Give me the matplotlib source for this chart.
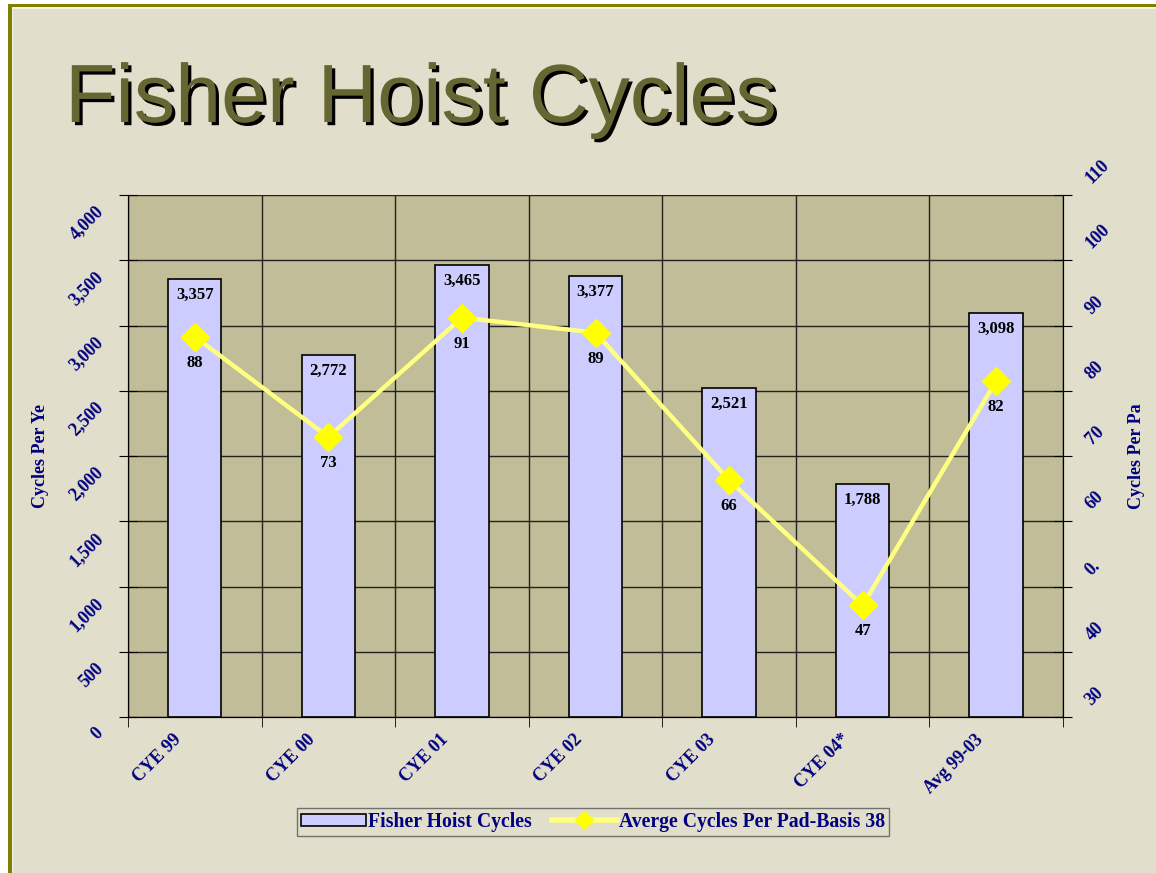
import matplotlib
matplotlib.use("Agg")
import matplotlib.pyplot as plt
import matplotlib.ticker as mticker
import matplotlib.patheffects as pe
import matplotlib.transforms as mtrans
from matplotlib.patches import Rectangle, Patch
from matplotlib.lines import Line2D

# ── Data ──────────────────────────────────────────────────────────────────────
categories   = ['CYE 99', 'CYE 00', 'CYE 01', 'CYE 02', 'CYE 03', 'CYE 04*', 'Avg 99-03']
hoist_cycles = [3357, 2772, 3465, 3377, 2521, 1788, 3098]
avg_per_pad  = [88.3, 72.9, 91.2, 88.9, 66.3, 47.1, 81.5]
left_ticks   = list(range(0, 4001, 500))
right_ticks  = list(range(30, 111, 10))
right_labels = ['30', '40', '0.', '60', '70', '80', '90', '100', '110']

# ── Palette ───────────────────────────────────────────────────────────────────
_BG     = '#E1DFCB'
_PLOT   = '#C1BD98'
_OLIVE  = '#808000'
_NAVY   = '#000080'
_BAR    = '#CCCCFF'
_LINE   = '#FFFF80'
_MARK   = '#FFFF00'
_TITLE  = '#666633'
SERIF   = ['Liberation Serif', 'DejaVu Serif']

W, H = 1156, 873
fig = plt.figure(figsize=(W / 100, H / 100), dpi=100)
fig.patch.set_facecolor('white')

# slide frame
fig.patches.append(Rectangle((8 / W, 0), 1, 1 - 4 / H, transform=fig.transFigure,
                             facecolor=_OLIVE, edgecolor='none', zorder=-3))
fig.patches.append(Rectangle((12 / W, 0), 1, 1 - 7 / H, transform=fig.transFigure,
                             facecolor='#F4F3EA', edgecolor='none', zorder=-2))
fig.patches.append(Rectangle((13 / W, 0), 1, 1 - 9 / H, transform=fig.transFigure,
                             facecolor=_BG, edgecolor='none', zorder=-1))

# title
fig.text(65 / W, 1 - 122 / H, 'Fisher Hoist Cycles', fontsize=59.5,
         family=['Liberation Sans', 'DejaVu Sans'], color=_TITLE,
         ha='left', va='baseline',
         path_effects=[pe.withSimplePatchShadow(offset=(2.3, -2.3),
                                                shadow_rgbFace='black', alpha=1)])

# ── Axes ──────────────────────────────────────────────────────────────────────
x0, x1, y0, y1 = 128, 1063, 195, 717
ax = fig.add_axes([x0 / W, 1 - y1 / H, (x1 - x0) / W, (y1 - y0) / H])
ax.set_facecolor(_PLOT)
ax2 = ax.twinx()

xs = list(range(len(categories)))
ax.bar(xs, hoist_cycles, width=0.4, color=_BAR, edgecolor='black',
       linewidth=1.2, zorder=3)
for x, v in zip(xs, hoist_cycles):
    ax.annotate(f'{v:,}', (x, v), xytext=(0, -8), textcoords='offset pixels',
                ha='center', va='top', fontsize=12, fontweight='bold',
                family=SERIF, color='black', zorder=4)

ax.set_xlim(-0.5, len(categories) - 0.5)
ax.set_ylim(0, 4000)
ax.set_yticks(left_ticks)
ax.yaxis.set_major_formatter(mticker.FuncFormatter(lambda v, _: f'{v:,.0f}'))
ax.set_xticks(xs)
ax.set_xticks([i - 0.5 for i in range(len(categories) + 1)], minor=True)
ax.set_xticklabels(categories)

ax.yaxis.grid(True, color='#222222', linewidth=1.0, zorder=1)
ax.xaxis.grid(True, which='minor', color='#222222', linewidth=1.0, zorder=1)
ax.set_axisbelow(True)

ax.tick_params(axis='x', which='major', length=0, pad=10)
ax.tick_params(axis='x', which='minor', length=7, direction='out', color='black')
ax.tick_params(axis='y', length=13, direction='inout', color='black', pad=14)
ax.spines['top'].set_visible(False)
ax2.spines['top'].set_visible(False)
for s in ['left', 'bottom', 'right']:
    ax.spines[s].set_color('black')
    ax2.spines[s].set_color('black')

# line series on the secondary axis
ax2.plot(xs, avg_per_pad, color=_LINE, lw=3.2, marker='D', markersize=14,
         markerfacecolor=_MARK, markeredgecolor=_MARK, zorder=5)
for x, v in zip(xs, avg_per_pad):
    ax2.annotate(f'{v:.0f}', (x, v), xytext=(0, -26), textcoords='offset pixels',
                 ha='center', va='center', fontsize=12, fontweight='bold',
                 family=SERIF, color='black')
ax2.set_ylim(30, 110)
ax2.set_yticks(right_ticks)
ax2.set_yticklabels(right_labels)
ax2.tick_params(axis='y', length=13, direction='inout', color='black', pad=12.5)

ax.set_ylabel('Cycles Per Ye', fontsize=13, fontweight='bold', family=SERIF, color=_NAVY)
ax.yaxis.set_label_coords(-0.0845, 0.5)
ax2.set_ylabel('Cycles Per Pa', fontsize=13, fontweight='bold', family=SERIF,
               color=_NAVY, rotation=90)
ax2.yaxis.set_label_coords(1.070, 0.5)


def style_labels(labels, ha, va, size, dx, dy):
    shift = mtrans.ScaledTranslation(dx / 100, dy / 100, fig.dpi_scale_trans)
    for lbl in labels:
        lbl.set_rotation(45)
        lbl.set_rotation_mode('anchor')
        lbl.set_ha(ha)
        lbl.set_va(va)
        lbl.set_fontsize(size)
        lbl.set_fontweight('bold')
        lbl.set_family(SERIF)
        lbl.set_color(_NAVY)
        lbl.set_transform(lbl.get_transform() + shift)


style_labels(ax.get_xticklabels(), 'right', 'top', 13, -22, 0)
style_labels(ax.get_yticklabels(), 'right', 'top', 13, -5, -8)
style_labels(ax2.get_yticklabels(), 'left', 'bottom', 13, 5, 8)

# ── Legend ────────────────────────────────────────────────────────────────────
handles = [
    Patch(facecolor=_BAR, edgecolor='black', linewidth=1.2, label='Fisher Hoist Cycles'),
    Line2D([0], [0], color=_LINE, lw=4, marker='D', markersize=9,
           markerfacecolor=_MARK, markeredgecolor=_MARK,
           label='Averge Cycles Per Pad-Basis 38'),
]
leg = fig.legend(handles=handles, loc='center', bbox_to_anchor=(593 / W, 1 - 822 / H),
                 ncol=2, frameon=True, fancybox=False, handlelength=3.3,
                 handleheight=0.6, handletextpad=0.1, columnspacing=1.0,
                 borderpad=0.2, borderaxespad=0,
                 prop={'family': SERIF, 'weight': 'bold', 'size': 14.2})
leg.get_frame().set_facecolor(_BG)
leg.get_frame().set_edgecolor('#555555')
leg.get_frame().set_linewidth(1.0)
for t in leg.get_texts():
    t.set_color(_NAVY)

fig.savefig('out.png', dpi=100, facecolor=fig.get_facecolor())
